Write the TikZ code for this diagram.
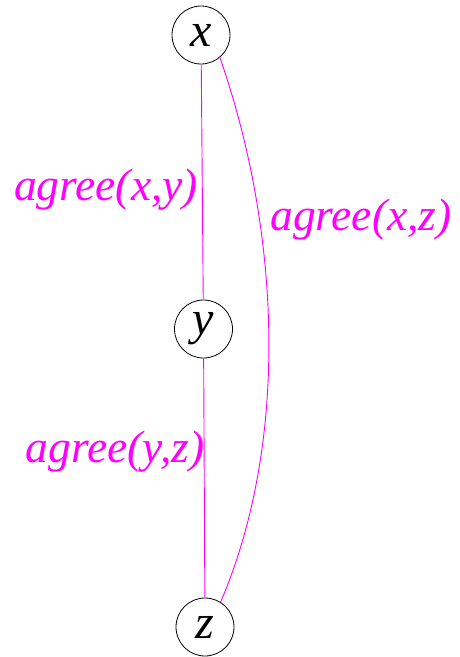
\documentclass[tikz,border=0pt]{standalone}
\usepackage{fontspec}
\newfontfamily\lsi{Liberation Serif Italic}
\definecolor{mag}{RGB}{255,0,255}
\begin{document}
\begin{tikzpicture}[x=1pt,y=-1pt,
  vnode/.style={circle,draw=black,line width=0.8pt,minimum size=58pt,inner sep=0pt,font=\lsi\fontsize{48}{48}\selectfont},
  edge/.style={draw=mag,line width=0.9pt},
  elabel/.style={text=mag,font=\lsi\fontsize{45.5}{45.5}\selectfont,inner sep=0pt}]
\useasboundingbox (0,0) rectangle (459,657);
\node[vnode] (x) at (201,35) {x};
\node[vnode] (y) at (203.5,329) {y};
\node[vnode] (z) at (205,627) {z};
\draw[edge] (x) -- (y);
\draw[edge] (y) -- (z);
\draw[edge] (x.-50) .. controls (280,230) and (290,440) .. (z.58);
\node[elabel] (l1) at (106,190) {agree(x,y)};
\node[elabel] (l2) at (361,220) {agree(x,z)};
\node[elabel] (l3) at (115,452) {agree(y,z)};
\end{tikzpicture}
\end{document}
